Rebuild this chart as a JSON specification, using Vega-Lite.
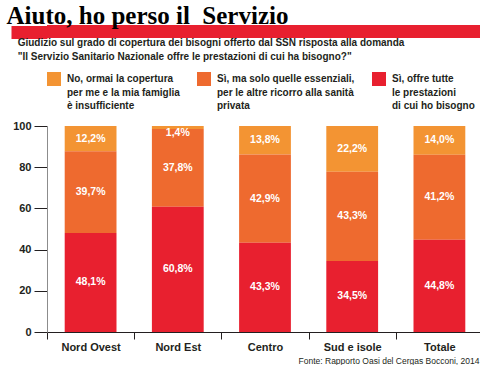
{
  "$schema": "https://vega.github.io/schema/vega-lite/v6.json",
  "background": "white",
  "padding": {"left": 4, "top": 4, "right": 0, "bottom": 0},
  "config": {
    "view": {"stroke": null},
    "font": "Liberation Sans",
    "style": {"guide-label": {"lineHeight": 13.5}}
  },
  "resolve": {"legend": {"color": "independent"}, "scale": {"color": "independent"}},
  "spacing": -1,
  "vconcat": [
    {
      "width": 436,
      "height": 13,
      "view": {"fill": "#E8202F", "stroke": null},
      "title": {
        "text": "Aiuto, ho perso il\u00a0 Servizio",
        "anchor": "start",
        "frame": "bounds",
        "dx": 2,
        "font": "Liberation Serif",
        "fontSize": 25,
        "fontWeight": "bold",
        "color": "#000000",
        "baseline": "alphabetic",
        "offset": -24
      },
      "data": {"values": [{"v": 0.5}]},
      "mark": {"type": "text", "text": ""},
      "encoding": {
        "y": {
          "field": "v",
          "type": "quantitative",
          "scale": {"domain": [0, 1]},
          "axis": {
            "title": null,
            "values": [0.5],
            "labels": false,
            "domain": false,
            "grid": false,
            "tickSize": 36,
            "tickWidth": 13,
            "tickCap": "butt",
            "tickColor": "#E8202F",
            "labelPadding": 0,
            "minExtent": 36,
            "maxExtent": 36
          }
        }
      }
    },
    {
      "width": 436,
      "height": 206,
      "title": {
        "text": [
          "Giudizio sul grado di copertura dei bisogni offerto dal SSN risposta alla domanda",
          "\"Il Servizio Sanitario Nazionale offre le prestazioni di cui ha bisogno?\""
        ],
        "anchor": "start",
        "frame": "bounds",
        "dx": 5,
        "fontSize": 10,
        "fontWeight": "bold",
        "lineHeight": 14,
        "color": "#231F20",
        "offset": 10
      },
      "data": {
        "values": [
          {"area": "Nord Ovest", "risposta": "No, ormai la copertura per me e la mia famiglia è insufficiente", "value": 12.2},
          {"area": "Nord Ovest", "risposta": "Sì, ma solo quelle essenziali, per le altre ricorro alla sanità privata", "value": 39.7},
          {"area": "Nord Ovest", "risposta": "Sì, offre tutte le prestazioni di cui ho bisogno", "value": 48.1},
          {"area": "Nord Est", "risposta": "No, ormai la copertura per me e la mia famiglia è insufficiente", "value": 1.4},
          {"area": "Nord Est", "risposta": "Sì, ma solo quelle essenziali, per le altre ricorro alla sanità privata", "value": 37.8},
          {"area": "Nord Est", "risposta": "Sì, offre tutte le prestazioni di cui ho bisogno", "value": 60.8},
          {"area": "Centro", "risposta": "No, ormai la copertura per me e la mia famiglia è insufficiente", "value": 13.8},
          {"area": "Centro", "risposta": "Sì, ma solo quelle essenziali, per le altre ricorro alla sanità privata", "value": 42.9},
          {"area": "Centro", "risposta": "Sì, offre tutte le prestazioni di cui ho bisogno", "value": 43.3},
          {"area": "Sud e isole", "risposta": "No, ormai la copertura per me e la mia famiglia è insufficiente", "value": 22.2},
          {"area": "Sud e isole", "risposta": "Sì, ma solo quelle essenziali, per le altre ricorro alla sanità privata", "value": 43.3},
          {"area": "Sud e isole", "risposta": "Sì, offre tutte le prestazioni di cui ho bisogno", "value": 34.5},
          {"area": "Totale", "risposta": "No, ormai la copertura per me e la mia famiglia è insufficiente", "value": 14.0},
          {"area": "Totale", "risposta": "Sì, ma solo quelle essenziali, per le altre ricorro alla sanità privata", "value": 41.2},
          {"area": "Totale", "risposta": "Sì, offre tutte le prestazioni di cui ho bisogno", "value": 44.8}
        ]
      },
      "transform": [
        {"stack": "value", "groupby": ["area"], "sort": [{"field": "risposta", "order": "descending"}], "as": ["y0", "y1"]},
        {"calculate": "min((datum.y0 + datum.y1) / 2, datum.y1 - 3.3)", "as": "ymid"},
        {"calculate": "replace(format(datum.value, '.1f'), '.', ',') + '%'", "as": "label"}
      ],
      "encoding": {
        "x": {
          "field": "area",
          "type": "nominal",
          "sort": ["Nord Ovest", "Nord Est", "Centro", "Sud e isole", "Totale"],
          "scale": {"paddingInner": 0, "paddingOuter": 0},
          "axis": {
            "title": "Fonte: Rapporto Oasi del Cergas Bocconi, 2014",
            "titleAnchor": "end",
            "titleAlign": "right",
            "titleX": 432,
            "titleFontWeight": "normal",
            "titleFontSize": 8.5,
            "titleColor": "#231F20",
            "titlePadding": 4,
            "tickBand": "extent",
            "tickSize": 7,
            "tickColor": "#231F20",
            "domainColor": "#231F20",
            "labelPadding": 2,
            "labelAngle": 0,
            "labelFontSize": 11,
            "labelFontWeight": "bold",
            "labelColor": "#231F20"
          }
        }
      },
      "layer": [
        {
          "mark": {"type": "bar", "width": {"band": 0.594}},
          "encoding": {
            "y": {
              "field": "y1",
              "type": "quantitative",
              "scale": {"domain": [0, 100]},
              "axis": {
                "title": null,
                "values": [0, 20, 40, 60, 80, 100],
                "grid": false,
                "tickSize": 13,
                "tickColor": "#231F20",
                "domainColor": "#8C8C8C",
                "labelPadding": 3,
                "labelFontSize": 11,
                "labelFontWeight": "bold",
                "labelColor": "#231F20"
              }
            },
            "y2": {"field": "y0"},
            "color": {
              "field": "risposta",
              "type": "nominal",
              "scale": {
                "domain": [
                  "No, ormai la copertura per me e la mia famiglia è insufficiente",
                  "Sì, ma solo quelle essenziali, per le altre ricorro alla sanità privata",
                  "Sì, offre tutte le prestazioni di cui ho bisogno"
                ],
                "range": ["#F39433", "#EE6A2F", "#E8202F"]
              },
              "legend": {
                "orient": "top",
                "offset": 15,
                "direction": "horizontal",
                "title": null,
                "symbolType": "square",
                "symbolSize": 196,
                "symbolStrokeWidth": 0,
                "symbolOpacity": 1,
                "labelFontSize": 10,
                "labelFontWeight": "bold",
                "labelColor": "#231F20",
                "labelLimit": 0,
                "labelOffset": 6,
                "columnPadding": 17,
                "labelExpr": "datum.value == 'No, ormai la copertura per me e la mia famiglia è insufficiente' ? ['No, ormai la copertura', 'per me e la mia famiglia', 'è insufficiente'] : datum.value == 'Sì, offre tutte le prestazioni di cui ho bisogno' ? ['Sì, offre tutte', 'le prestazioni', 'di cui ho bisogno'] : ['Sì, ma solo quelle essenziali,', 'per le altre ricorro alla sanità', 'privata']"
              }
            }
          }
        },
        {
          "mark": {"type": "text", "color": "white", "fontWeight": "bold", "fontSize": 10.5},
          "encoding": {
            "y": {"field": "ymid", "type": "quantitative"},
            "text": {"field": "label"}
          }
        }
      ]
    }
  ]
}
